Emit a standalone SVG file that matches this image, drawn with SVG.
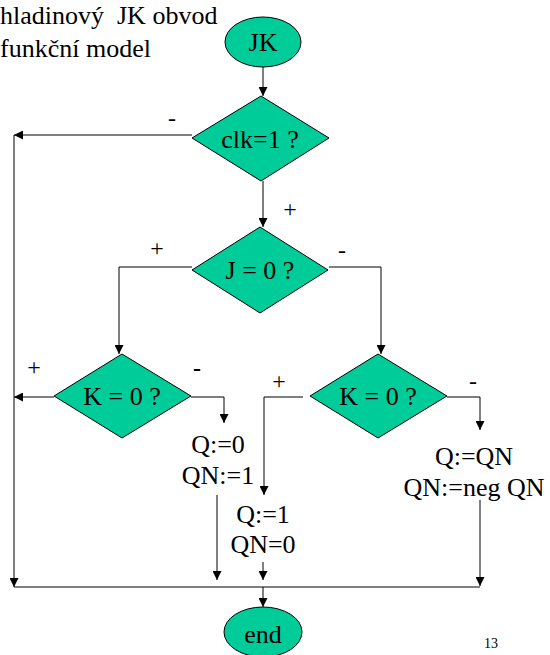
<svg xmlns="http://www.w3.org/2000/svg" width="550" height="655" viewBox="0 0 550 655" font-family="'Liberation Serif', 'Times New Roman', serif">
  <defs>
    <marker id="arrow" viewBox="0 0 10 10" refX="10" refY="5" markerWidth="9" markerHeight="9" markerUnits="userSpaceOnUse" orient="auto">
      <path d="M0,0 L10,5 L0,10 z" fill="#000"/>
    </marker>
    <style>
      .shape { fill: #00cc99; stroke: #000; stroke-width: 1; }
      .txt { font-family: "Liberation Serif", "Times New Roman", serif; font-size: 26px; fill: #000; white-space: pre; }
      .mid { text-anchor: middle; }
      .sign { font-family: "Liberation Serif", "Times New Roman", serif; font-size: 24px; fill: #000; text-anchor: middle; }
      .line { fill: none; stroke: #000; stroke-width: 1; }
      .arr { marker-end: url(#arrow); }
    </style>
  </defs>
  <rect width="550" height="655" fill="#fff"/>

  <!-- heading -->
  <g id="title">
    <text class="txt" x="0" y="24" xml:space="preserve">hladinový  JK obvod</text>
    <text class="txt" x="0" y="57">funkční model</text>
  </g>

  <!-- connectors -->
  <g id="connectors">
    <path class="line arr" d="M263,67 L263,96"/>
    <path class="line arr" d="M192,135 L14,135"/>
    <path class="line arr" d="M14,135 L14,587"/>
    <path class="line arr" d="M263,181 L263,227"/>
    <path class="line arr" d="M192,267 L119,267 L119,354"/>
    <path class="line arr" d="M329,267 L381,267 L381,354"/>
    <path class="line arr" d="M54,397 L14,397"/>
    <path class="line arr" d="M191,397 L224,397 L224,423"/>
    <path class="line arr" d="M303,397 L264,397 L264,495"/>
    <path class="line arr" d="M447,397 L480,397 L480,430"/>
    <path class="line arr" d="M217,495 L217,580"/>
    <path class="line arr" d="M263,562 L263,580"/>
    <path class="line arr" d="M480,500 L480,586"/>
    <path class="line" d="M14,587 L480,587"/>
    <path class="line arr" d="M263,587 L263,607"/>
    <text class="sign" x="172" y="126">-</text>
    <text class="sign" x="290" y="217">+</text>
    <text class="sign" x="157" y="256">+</text>
    <text class="sign" x="342" y="258">-</text>
    <text class="sign" x="34" y="375">+</text>
    <text class="sign" x="197" y="376" font-weight="bold">-</text>
    <text class="sign" x="279" y="389">+</text>
    <text class="sign" x="473" y="389">-</text>
  </g>

  <g id="start">
    <ellipse class="shape" cx="263" cy="42" rx="38" ry="25"/>
    <text class="txt mid" x="263" y="51">JK</text>
  </g>

  <g id="clk">
    <polygon class="shape" points="261,96 329,138 261,181 192,138"/>
    <text class="txt mid" x="260" y="148">clk=1 ?</text>
  </g>

  <g id="j">
    <polygon class="shape" points="260,227 328,270 260,313 192,270"/>
    <text class="txt mid" x="260" y="279">J = 0 ?</text>
  </g>

  <g id="k-left">
    <polygon class="shape" points="122,354 191,396 122,438 54,396"/>
    <text class="txt mid" x="122" y="405">K = 0 ?</text>
  </g>

  <g id="k-right">
    <polygon class="shape" points="378,354 447,396 378,438 310,396"/>
    <text class="txt mid" x="378" y="405">K = 0 ?</text>
  </g>

  <g id="reset">
    <text class="txt mid" x="218" y="453">Q:=0</text>
    <text class="txt mid" x="218" y="484">QN:=1</text>
  </g>

  <g id="set">
    <text class="txt mid" x="263" y="523">Q:=1</text>
    <text class="txt mid" x="263" y="553">QN=0</text>
  </g>

  <g id="toggle">
    <text class="txt mid" x="474" y="465">Q:=QN</text>
    <text class="txt mid" x="474" y="496">QN:=neg QN</text>
  </g>

  <g id="end">
    <ellipse class="shape" cx="263" cy="632" rx="39" ry="25"/>
    <text class="txt mid" x="263" y="643">end</text>
  </g>

  <g id="page">
    <text x="491" y="648" font-size="14" text-anchor="middle">13</text>
  </g>
</svg>
